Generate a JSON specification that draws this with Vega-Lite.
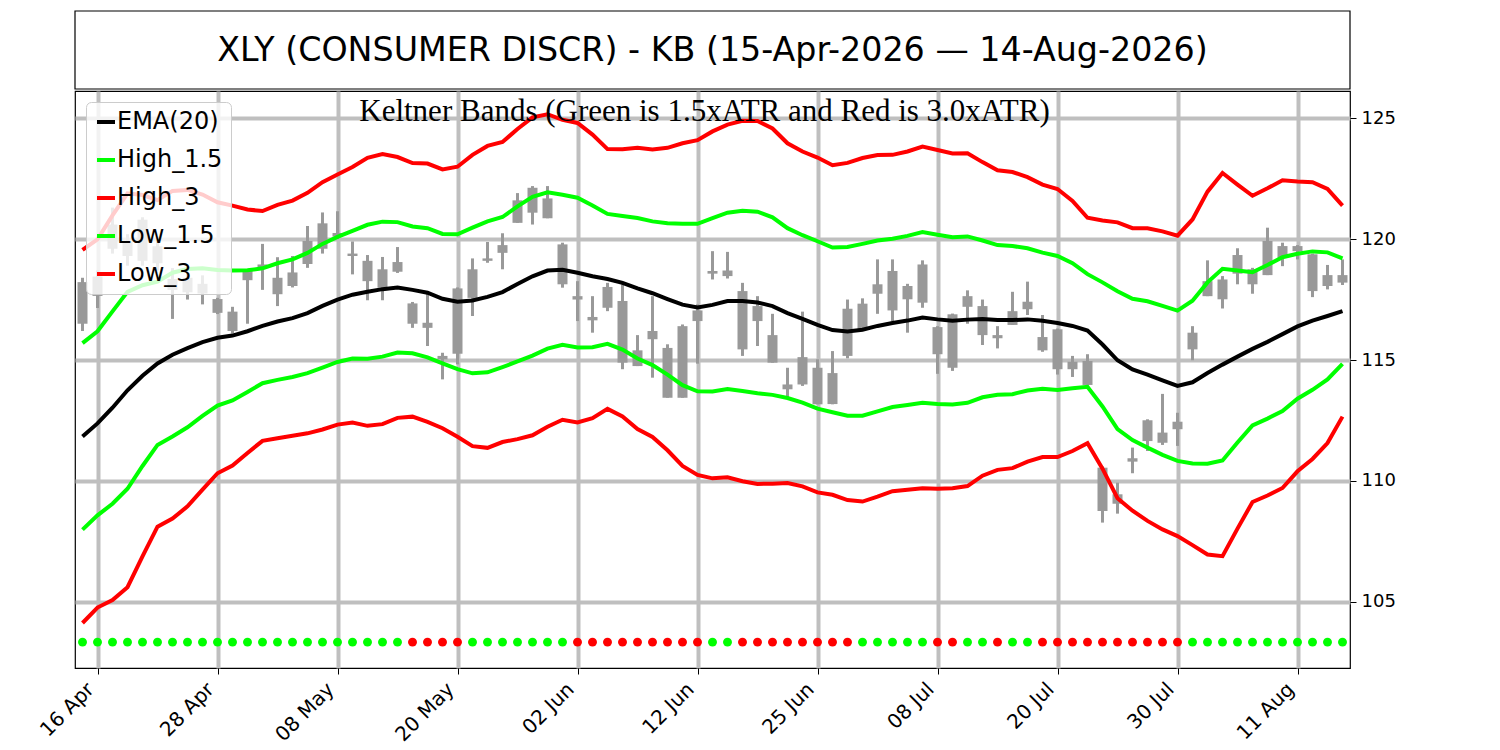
{
  "$schema": "https://vega.github.io/schema/vega-lite/v6.json",
  "padding": {"left": 35, "top": 10, "right": 0, "bottom": 0},
  "background": "white",
  "spacing": 0,
  "resolve": {"legend": {"color": "independent"}, "scale": {"color": "independent"}},
  "config": {
    "font": "DejaVu Sans",
    "view": {"stroke": "black", "strokeWidth": 1.2},
    "axis": {"labelFont": "DejaVu Sans", "labelColor": "black", "tickColor": "black", "gridColor": "#bfbfbf", "gridWidth": 4, "gridOpacity": 1, "domain": false}
  },
  "vconcat": [
    {
      "width": 1275,
      "height": 78,
      "data": {"values": [{"t": "XLY (CONSUMER DISCR) - KB (15-Apr-2026 — 14-Aug-2026)"}]},
      "layer": [
        {
          "mark": {"type": "rect", "fill": "white", "fillOpacity": 0, "stroke": "black", "strokeWidth": 1.2},
          "encoding": {}
        },
        {
          "mark": {"type": "text", "fontSize": 33.3, "font": "DejaVu Sans", "color": "black", "dy": 1},
          "encoding": {"text": {"field": "t", "type": "nominal"}}
        }
      ]
    },
    {
      "width": 1275,
      "height": 577,
      "data": {"values": [
        {"d":"2026-04-15","o":118.22,"h":118.4,"l":116.2,"c":116.5,"e":111.84,"h1":115.70,"l1":107.99,"h3":119.55,"l3":104.13,"s":"g"},
        {"d":"2026-04-16","o":118.45,"h":118.7,"l":117.15,"c":117.65,"e":112.38,"h1":116.19,"l1":108.58,"h3":119.99,"l3":104.77,"s":"g"},
        {"d":"2026-04-17","o":120.6,"h":121.3,"l":119.4,"c":119.6,"e":113.03,"h1":117.01,"l1":109.06,"h3":120.98,"l3":105.08,"s":"g"},
        {"d":"2026-04-20","o":119.9,"h":120.2,"l":118.9,"c":119.3,"e":113.75,"h1":117.82,"l1":109.68,"h3":121.89,"l3":105.61,"s":"g"},
        {"d":"2026-04-21","o":120.8,"h":120.9,"l":118.9,"c":119.1,"e":114.35,"h1":118.09,"l1":110.62,"h3":121.82,"l3":106.88,"s":"g"},
        {"d":"2026-04-22","o":119.7,"h":119.9,"l":118.7,"c":119.0,"e":114.86,"h1":118.24,"l1":111.49,"h3":121.61,"l3":108.11,"s":"g"},
        {"d":"2026-04-23","o":118.35,"h":118.8,"l":116.7,"c":117.9,"e":115.22,"h1":118.61,"l1":111.84,"h3":121.99,"l3":108.45,"s":"g"},
        {"d":"2026-04-24","o":118.4,"h":118.6,"l":117.5,"c":117.8,"e":115.49,"h1":118.76,"l1":112.22,"h3":122.03,"l3":108.95,"s":"g"},
        {"d":"2026-04-27","o":118.15,"h":118.5,"l":117.3,"c":117.75,"e":115.74,"h1":118.79,"l1":112.69,"h3":121.84,"l3":109.64,"s":"g"},
        {"d":"2026-04-28","o":117.52,"h":117.57,"l":116.9,"c":116.95,"e":115.92,"h1":118.72,"l1":113.12,"h3":121.52,"l3":110.32,"s":"g"},
        {"d":"2026-04-29","o":117.0,"h":117.2,"l":116.1,"c":116.2,"e":116.01,"h1":118.70,"l1":113.33,"h3":121.38,"l3":110.64,"s":"g"},
        {"d":"2026-04-30","o":118.7,"h":118.75,"l":116.5,"c":118.3,"e":116.19,"h1":118.71,"l1":113.68,"h3":121.22,"l3":111.16,"s":"g"},
        {"d":"2026-05-01","o":118.95,"h":119.8,"l":117.9,"c":118.8,"e":116.41,"h1":118.79,"l1":114.04,"h3":121.16,"l3":111.66,"s":"g"},
        {"d":"2026-05-04","o":118.4,"h":119.25,"l":117.23,"c":117.72,"e":116.59,"h1":119.0,"l1":114.18,"h3":121.41,"l3":111.77,"s":"g"},
        {"d":"2026-05-05","o":118.62,"h":119.3,"l":118.0,"c":118.06,"e":116.73,"h1":119.16,"l1":114.30,"h3":121.59,"l3":111.87,"s":"g"},
        {"d":"2026-05-06","o":119.92,"h":120.54,"l":118.81,"c":118.97,"e":116.94,"h1":119.43,"l1":114.46,"h3":121.91,"l3":111.97,"s":"g"},
        {"d":"2026-05-07","o":120.65,"h":121.1,"l":119.4,"c":119.6,"e":117.24,"h1":119.80,"l1":114.69,"h3":122.35,"l3":112.13,"s":"g"},
        {"d":"2026-05-08","o":120.25,"h":121.15,"l":120.0,"c":120.1,"e":117.5,"h1":120.09,"l1":114.92,"h3":122.67,"l3":112.33,"s":"g"},
        {"d":"2026-05-11","o":119.4,"h":119.9,"l":118.54,"c":119.3,"e":117.7,"h1":120.34,"l1":115.06,"h3":122.98,"l3":112.42,"s":"g"},
        {"d":"2026-05-12","o":119.1,"h":119.34,"l":117.47,"c":118.26,"e":117.82,"h1":120.59,"l1":115.05,"h3":123.36,"l3":112.28,"s":"g"},
        {"d":"2026-05-13","o":118.75,"h":119.26,"l":117.47,"c":117.99,"e":117.93,"h1":120.72,"l1":115.14,"h3":123.51,"l3":112.35,"s":"g"},
        {"d":"2026-05-14","o":119.05,"h":119.67,"l":118.6,"c":118.65,"e":118.0,"h1":120.70,"l1":115.31,"h3":123.39,"l3":112.61,"s":"g"},
        {"d":"2026-05-15","o":117.34,"h":117.4,"l":116.33,"c":116.5,"e":117.9,"h1":120.52,"l1":115.28,"h3":123.14,"l3":112.66,"s":"r"},
        {"d":"2026-05-18","o":116.54,"h":117.78,"l":115.58,"c":116.33,"e":117.78,"h1":120.45,"l1":115.11,"h3":123.12,"l3":112.44,"s":"r"},
        {"d":"2026-05-19","o":115.17,"h":115.3,"l":114.2,"c":115.03,"e":117.53,"h1":120.21,"l1":114.86,"h3":122.88,"l3":112.18,"s":"r"},
        {"d":"2026-05-20","o":117.96,"h":118.0,"l":114.82,"c":115.26,"e":117.41,"h1":120.20,"l1":114.62,"h3":122.99,"l3":111.83,"s":"r"},
        {"d":"2026-05-21","o":118.75,"h":119.2,"l":116.82,"c":117.57,"e":117.46,"h1":120.47,"l1":114.45,"h3":123.48,"l3":111.44,"s":"g"},
        {"d":"2026-05-22","o":119.2,"h":119.88,"l":119.02,"c":119.1,"e":117.61,"h1":120.73,"l1":114.49,"h3":123.85,"l3":111.37,"s":"g"},
        {"d":"2026-05-26","o":119.75,"h":120.24,"l":118.75,"c":119.43,"e":117.81,"h1":120.91,"l1":114.71,"h3":124.01,"l3":111.61,"s":"g"},
        {"d":"2026-05-27","o":121.6,"h":121.9,"l":120.67,"c":120.67,"e":118.14,"h1":121.35,"l1":114.94,"h3":124.55,"l3":111.73,"s":"g"},
        {"d":"2026-05-28","o":122.12,"h":122.19,"l":120.6,"c":121.09,"e":118.46,"h1":121.75,"l1":115.18,"h3":125.03,"l3":111.89,"s":"g"},
        {"d":"2026-05-29","o":121.68,"h":122.19,"l":120.86,"c":120.86,"e":118.7,"h1":121.93,"l1":115.47,"h3":125.16,"l3":112.24,"s":"g"},
        {"d":"2026-06-01","o":119.78,"h":119.85,"l":117.99,"c":118.13,"e":118.73,"h1":121.83,"l1":115.63,"h3":124.93,"l3":112.53,"s":"g"},
        {"d":"2026-06-02","o":117.64,"h":118.26,"l":116.61,"c":117.5,"e":118.61,"h1":121.71,"l1":115.52,"h3":124.80,"l3":112.42,"s":"r"},
        {"d":"2026-06-03","o":116.78,"h":117.64,"l":116.13,"c":116.64,"e":118.46,"h1":121.39,"l1":115.53,"h3":124.32,"l3":112.60,"s":"r"},
        {"d":"2026-06-04","o":118.02,"h":118.19,"l":117.02,"c":117.16,"e":118.35,"h1":121.04,"l1":115.67,"h3":123.72,"l3":112.98,"s":"r"},
        {"d":"2026-06-05","o":117.44,"h":118.13,"l":114.62,"c":114.89,"e":118.19,"h1":120.95,"l1":115.43,"h3":123.71,"l3":112.67,"s":"r"},
        {"d":"2026-06-08","o":115.4,"h":116.03,"l":114.75,"c":114.75,"e":117.96,"h1":120.87,"l1":115.06,"h3":123.77,"l3":112.15,"s":"r"},
        {"d":"2026-06-09","o":116.2,"h":117.64,"l":114.27,"c":115.86,"e":117.76,"h1":120.73,"l1":114.79,"h3":123.70,"l3":111.82,"s":"r"},
        {"d":"2026-06-10","o":115.5,"h":115.65,"l":113.44,"c":113.44,"e":117.52,"h1":120.65,"l1":114.40,"h3":123.77,"l3":111.27,"s":"r"},
        {"d":"2026-06-11","o":116.4,"h":116.47,"l":113.44,"c":113.44,"e":117.29,"h1":120.63,"l1":113.96,"h3":123.96,"l3":110.62,"s":"r"},
        {"d":"2026-06-12","o":117.05,"h":117.3,"l":114.85,"c":116.61,"e":117.17,"h1":120.63,"l1":113.71,"h3":124.09,"l3":110.25,"s":"r"},
        {"d":"2026-06-15","o":118.68,"h":119.5,"l":118.33,"c":118.57,"e":117.28,"h1":120.87,"l1":113.70,"h3":124.45,"l3":110.11,"s":"g"},
        {"d":"2026-06-16","o":118.7,"h":119.47,"l":118.37,"c":118.47,"e":117.44,"h1":121.09,"l1":113.80,"h3":124.73,"l3":110.15,"s":"g"},
        {"d":"2026-06-17","o":117.85,"h":118.19,"l":115.17,"c":115.44,"e":117.44,"h1":121.17,"l1":113.72,"h3":124.89,"l3":109.99,"s":"r"},
        {"d":"2026-06-18","o":117.23,"h":117.64,"l":115.58,"c":116.61,"e":117.38,"h1":121.13,"l1":113.63,"h3":124.88,"l3":109.88,"s":"r"},
        {"d":"2026-06-22","o":116.03,"h":116.91,"l":114.89,"c":114.89,"e":117.23,"h1":120.90,"l1":113.56,"h3":124.57,"l3":109.89,"s":"r"},
        {"d":"2026-06-23","o":113.99,"h":114.68,"l":113.44,"c":113.79,"e":116.94,"h1":120.45,"l1":113.43,"h3":123.96,"l3":109.92,"s":"r"},
        {"d":"2026-06-24","o":115.12,"h":117.0,"l":113.93,"c":113.99,"e":116.7,"h1":120.16,"l1":113.24,"h3":123.62,"l3":109.78,"s":"r"},
        {"d":"2026-06-25","o":114.68,"h":115.03,"l":113.17,"c":113.17,"e":116.45,"h1":119.91,"l1":112.99,"h3":123.37,"l3":109.53,"s":"r"},
        {"d":"2026-06-26","o":114.46,"h":115.37,"l":113.17,"c":113.18,"e":116.24,"h1":119.65,"l1":112.84,"h3":123.05,"l3":109.43,"s":"r"},
        {"d":"2026-06-29","o":117.12,"h":117.5,"l":115.07,"c":115.17,"e":116.18,"h1":119.67,"l1":112.70,"h3":123.15,"l3":109.21,"s":"r"},
        {"d":"2026-06-30","o":117.33,"h":117.55,"l":116.23,"c":116.27,"e":116.25,"h1":119.80,"l1":112.70,"h3":123.35,"l3":109.15,"s":"g"},
        {"d":"2026-07-01","o":118.13,"h":119.16,"l":116.91,"c":117.74,"e":116.41,"h1":119.94,"l1":112.88,"h3":123.47,"l3":109.35,"s":"g"},
        {"d":"2026-07-02","o":118.68,"h":119.16,"l":116.61,"c":117.05,"e":116.53,"h1":120.01,"l1":113.06,"h3":123.48,"l3":109.58,"s":"g"},
        {"d":"2026-07-06","o":118.06,"h":118.15,"l":116.13,"c":117.51,"e":116.63,"h1":120.13,"l1":113.14,"h3":123.62,"l3":109.64,"s":"g"},
        {"d":"2026-07-07","o":118.95,"h":119.12,"l":117.16,"c":117.37,"e":116.76,"h1":120.29,"l1":113.23,"h3":123.82,"l3":109.70,"s":"g"},
        {"d":"2026-07-08","o":116.36,"h":116.4,"l":114.43,"c":115.24,"e":116.68,"h1":120.18,"l1":113.18,"h3":123.68,"l3":109.68,"s":"r"},
        {"d":"2026-07-09","o":116.89,"h":116.92,"l":114.55,"c":114.68,"e":116.62,"h1":120.08,"l1":113.16,"h3":123.54,"l3":109.70,"s":"r"},
        {"d":"2026-07-10","o":117.64,"h":117.88,"l":116.5,"c":117.2,"e":116.67,"h1":120.11,"l1":113.23,"h3":123.55,"l3":109.79,"s":"g"},
        {"d":"2026-07-13","o":117.23,"h":117.5,"l":115.62,"c":116.03,"e":116.7,"h1":119.94,"l1":113.46,"h3":123.18,"l3":110.22,"s":"g"},
        {"d":"2026-07-14","o":116.03,"h":116.4,"l":115.48,"c":115.9,"e":116.65,"h1":119.75,"l1":113.56,"h3":122.84,"l3":110.46,"s":"r"},
        {"d":"2026-07-15","o":117.02,"h":117.82,"l":116.45,"c":116.45,"e":116.65,"h1":119.71,"l1":113.59,"h3":122.77,"l3":110.53,"s":"g"},
        {"d":"2026-07-16","o":117.41,"h":118.24,"l":116.86,"c":117.1,"e":116.68,"h1":119.62,"l1":113.74,"h3":122.56,"l3":110.80,"s":"g"},
        {"d":"2026-07-17","o":115.95,"h":116.86,"l":115.34,"c":115.4,"e":116.62,"h1":119.44,"l1":113.81,"h3":122.25,"l3":110.99,"s":"r"},
        {"d":"2026-07-20","o":116.27,"h":116.3,"l":114.4,"c":114.62,"e":116.53,"h1":119.30,"l1":113.76,"h3":122.07,"l3":110.99,"s":"r"},
        {"d":"2026-07-21","o":114.93,"h":115.17,"l":114.3,"c":114.62,"e":116.41,"h1":119.00,"l1":113.83,"h3":121.58,"l3":111.24,"s":"r"},
        {"d":"2026-07-22","o":114.96,"h":115.24,"l":113.97,"c":113.97,"e":116.22,"h1":118.55,"l1":113.89,"h3":120.88,"l3":111.56,"s":"r"},
        {"d":"2026-07-23","o":110.55,"h":110.6,"l":108.28,"c":108.76,"e":115.64,"h1":118.21,"l1":113.08,"h3":120.77,"l3":110.51,"s":"r"},
        {"d":"2026-07-24","o":109.45,"h":109.93,"l":108.65,"c":109.06,"e":114.99,"h1":117.84,"l1":112.14,"h3":120.69,"l3":109.29,"s":"r"},
        {"d":"2026-07-27","o":110.94,"h":111.38,"l":110.32,"c":110.8,"e":114.61,"h1":117.53,"l1":111.69,"h3":120.45,"l3":108.77,"s":"r"},
        {"d":"2026-07-28","o":112.51,"h":112.55,"l":111.24,"c":111.65,"e":114.4,"h1":117.43,"l1":111.38,"h3":120.45,"l3":108.35,"s":"r"},
        {"d":"2026-07-29","o":112.0,"h":113.6,"l":111.49,"c":111.58,"e":114.16,"h1":117.24,"l1":111.08,"h3":120.32,"l3":108.0,"s":"r"},
        {"d":"2026-07-30","o":112.45,"h":112.82,"l":111.45,"c":112.14,"e":113.93,"h1":117.04,"l1":110.83,"h3":120.14,"l3":107.72,"s":"r"},
        {"d":"2026-07-31","o":116.13,"h":116.4,"l":114.99,"c":115.44,"e":114.08,"h1":117.45,"l1":110.72,"h3":120.81,"l3":107.35,"s":"g"},
        {"d":"2026-08-03","o":118.26,"h":119.12,"l":117.64,"c":117.64,"e":114.46,"h1":118.21,"l1":110.71,"h3":121.96,"l3":106.96,"s":"g"},
        {"d":"2026-08-04","o":118.33,"h":118.47,"l":117.13,"c":117.51,"e":114.81,"h1":118.77,"l1":110.85,"h3":122.73,"l3":106.89,"s":"g"},
        {"d":"2026-08-05","o":119.34,"h":119.62,"l":118.13,"c":118.57,"e":115.14,"h1":118.70,"l1":111.59,"h3":122.25,"l3":108.03,"s":"g"},
        {"d":"2026-08-06","o":118.75,"h":118.81,"l":117.74,"c":118.13,"e":115.46,"h1":118.63,"l1":112.30,"h3":121.79,"l3":109.13,"s":"g"},
        {"d":"2026-08-07","o":119.92,"h":120.47,"l":118.51,"c":118.51,"e":115.75,"h1":118.93,"l1":112.58,"h3":122.10,"l3":109.40,"s":"g"},
        {"d":"2026-08-10","o":119.71,"h":119.85,"l":118.88,"c":119.23,"e":116.07,"h1":119.25,"l1":112.89,"h3":122.43,"l3":109.71,"s":"g"},
        {"d":"2026-08-11","o":119.71,"h":119.75,"l":119.16,"c":119.5,"e":116.39,"h1":119.39,"l1":113.40,"h3":122.38,"l3":110.40,"s":"g"},
        {"d":"2026-08-12","o":119.37,"h":119.4,"l":117.6,"c":117.85,"e":116.63,"h1":119.49,"l1":113.77,"h3":122.35,"l3":110.91,"s":"g"},
        {"d":"2026-08-13","o":118.51,"h":118.93,"l":117.92,"c":118.06,"e":116.82,"h1":119.45,"l1":114.20,"h3":122.07,"l3":111.57,"s":"g"},
        {"d":"2026-08-14","o":118.51,"h":119.16,"l":118.1,"c":118.2,"e":117.02,"h1":119.20,"l1":114.84,"h3":121.38,"l3":112.66,"s":"g"}
      ]},
      "encoding": {
        "x": {
          "field": "d",
          "type": "ordinal",
          "scale": {"type": "point", "padding": 0.5},
          "axis": {
            "title": null,
            "values": ["2026-04-16","2026-04-28","2026-05-08","2026-05-20","2026-06-02","2026-06-12","2026-06-25","2026-07-08","2026-07-20","2026-07-30","2026-08-11"],
            "labelExpr": "utcFormat(toDate(datum.value), '%d %b')",
            "labelAngle": -45,
            "labelAlign": "right",
            "labelBaseline": "bottom",
            "labelFontSize": 20,
            "labelPadding": 19,
            "tickSize": 6,
            "grid": true
          }
        }
      },
      "layer": [
        {
          "mark": {"type": "rule", "color": "#999999", "strokeWidth": 3},
          "encoding": {
            "y": {
              "field": "l",
              "type": "quantitative",
              "title": null,
              "scale": {"domain": [102.27, 126.12], "nice": false, "zero": false},
              "axis": {"title": null, "orient": "right", "values": [105, 110, 115, 120, 125], "labelFontSize": 18, "labelPadding": 5, "tickSize": 6, "grid": true}
            },
            "y2": {"field": "h"}
          }
        },
        {
          "mark": {"type": "bar", "color": "#999999", "size": 10},
          "encoding": {
            "y": {"field": "o", "type": "quantitative", "title": null},
            "y2": {"field": "c"}
          }
        },
        {
          "transform": [{"fold": ["e", "h1", "h3", "l1", "l3"], "as": ["k", "v"]}],
          "mark": {"type": "line", "strokeWidth": 4},
          "encoding": {
            "y": {"field": "v", "type": "quantitative", "title": null},
            "color": {
              "field": "k",
              "type": "nominal",
              "scale": {"domain": ["e", "h1", "h3", "l1", "l3"], "range": ["#000000", "#00ff00", "#ff0000", "#00ff00", "#ff0000"]},
              "legend": {
                "title": null,
                "orient": "top-left",
                "offset": 11,
                "labelExpr": "datum.label=='e'?'EMA(20)':datum.label=='h1'?'High_1.5':datum.label=='h3'?'High_3':datum.label=='l1'?'Low_1.5':'Low_3'",
                "labelFontSize": 24,
                "labelFont": "DejaVu Sans",
                "labelColor": "black",
                "labelOffset": -1,
                "symbolType": "stroke",
                "symbolStrokeWidth": 4,
                "symbolSize": 324,
                "rowPadding": 14,
                "padding": 8,
                "fillColor": "rgba(255,255,255,0.8)",
                "strokeColor": "#cccccc",
                "cornerRadius": 5
              }
            }
          }
        },
        {
          "mark": {"type": "point", "filled": true, "size": 80, "opacity": 1},
          "encoding": {
            "y": {"datum": 103.34, "type": "quantitative"},
            "color": {"condition": {"test": "datum.s==='r'", "value": "#ff0000"}, "value": "#00ff00"}
          }
        },
        {
          "data": {"values": [{"t": "Keltner Bands (Green is 1.5xATR and Red is 3.0xATR)", "d": "2026-06-12", "y": 124.88}]},
          "mark": {"type": "text", "font": "Liberation Serif", "fontSize": 31, "align": "center", "baseline": "alphabetic", "color": "black", "dx": 7},
          "encoding": {
            "text": {"field": "t", "type": "nominal"},
            "y": {"field": "y", "type": "quantitative", "title": null}
          }
        }
      ]
    }
  ]
}
